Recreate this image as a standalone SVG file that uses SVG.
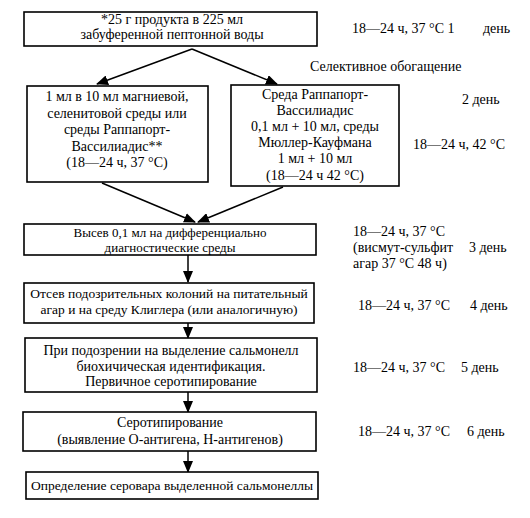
<svg xmlns="http://www.w3.org/2000/svg" width="530" height="518" viewBox="0 0 530 518">
<style>
.box{fill:#fff;stroke:#000;stroke-width:1.6}
.t{font-family:"Liberation Serif","Times New Roman",serif;font-size:14px;fill:#000}
.s{font-size:13px}
.m{font-size:13.5px}
.c{text-anchor:middle}
.ln{stroke:#000;stroke-width:1.5;fill:none;marker-end:url(#ah)}
</style>
<defs>
<marker id="ah" markerUnits="userSpaceOnUse" markerWidth="12" markerHeight="10" refX="11" refY="5" orient="auto">
<path d="M0,0 L12,5 L0,10 Z" fill="#000"/>
</marker>
</defs>
<rect width="530" height="518" fill="#fff"/>
<g id="connectors">
<line class="ln" x1="192" y1="49" x2="97" y2="84"/>
<line class="ln" x1="192" y1="49" x2="277" y2="84"/>
<line class="ln" x1="102" y1="183" x2="195" y2="222"/>
<line class="ln" x1="283" y1="187" x2="198" y2="222"/>
<line class="ln" x1="188" y1="255" x2="188" y2="282"/>
<line class="ln" x1="188" y1="323" x2="188" y2="338"/>
<line class="ln" x1="188" y1="392" x2="188" y2="412"/>
<line class="ln" x1="188" y1="451" x2="188" y2="472"/>
</g>
<g id="n1">
<rect class="box" x="24" y="12" width="293" height="34"/>
<text class="t c" x="172" y="24">*25 г продукта в 225 мл</text>
<text class="t c" x="172" y="39">забуференной пептонной воды</text>
</g>
<g id="n2a">
<rect class="box" x="27" y="86" width="181" height="96"/>
<text class="t c" x="117" y="101">1 мл в 10 мл магниевой,</text>
<text class="t c" x="117" y="118">селенитовой среды или</text>
<text class="t c" x="117" y="134">среды Раппапорт-</text>
<text class="t c" x="117" y="151">Вассилиадис**</text>
<text class="t c" x="117" y="167">(18—24 ч, 37 °С)</text>
</g>
<g id="n2b">
<rect class="box" x="231" y="85" width="168" height="101"/>
<text class="t c" x="315" y="99">Среда Раппапорт-</text>
<text class="t c" x="315" y="115">Вассилиадис</text>
<text class="t c" x="315" y="131">0,1 мл + 10 мл, среды</text>
<text class="t c" x="315" y="147">Мюллер-Кауфмана</text>
<text class="t c" x="315" y="163">1 мл + 10 мл</text>
<text class="t c" x="315" y="180">(18—24 ч 42 °С)</text>
</g>
<g id="n3">
<rect class="box" x="24" y="224" width="292" height="31"/>
<text class="t s c" x="170" y="237">Высев 0,1 мл на дифференциально</text>
<text class="t s c" x="170" y="251.5">диагностические среды</text>
</g>
<g id="n4">
<rect class="box" x="24" y="283" width="290" height="40"/>
<text class="t m c" x="169" y="298">Отсев подозрительных колоний на питательный</text>
<text class="t m c" x="169" y="314">агар и на среду Клиглера (или аналогичную)</text>
</g>
<g id="n5">
<rect class="box" x="25" y="338" width="292" height="54"/>
<text class="t c" x="171" y="355">При подозрении на выделение сальмонелл</text>
<text class="t c" x="171" y="371">биохичическая идентификация.</text>
<text class="t c" x="171" y="386">Первичное серотипирование</text>
</g>
<g id="n6">
<rect class="box" x="23" y="412" width="293" height="39"/>
<text class="t c" x="170" y="427">Серотипирование</text>
<text class="t c" x="170" y="444">(выявление О-антигена, Н-антигенов)</text>
</g>
<g id="n7">
<rect class="box" x="26" y="472" width="292" height="27"/>
<text class="t m c" x="172" y="490">Определение серовара выделенной сальмонеллы</text>
</g>
<g id="notes">
<text class="t" x="352" y="33">18—24 ч, 37 °С 1</text>
<text class="t" x="483" y="33">день</text>
<text class="t" x="310" y="71">Селективное обогащение</text>
<text class="t" x="462" y="104">2 день</text>
<text class="t" x="413" y="149">18—24 ч, 42 °С</text>
<text class="t" x="353" y="236">18—24 ч, 37 °С</text>
<text class="t" x="353" y="252">(висмут-сульфит</text>
<text class="t" x="469" y="252">3 день</text>
<text class="t" x="353" y="268">агар 37 °С 48 ч)</text>
<text class="t" x="358" y="310">18—24 ч, 37 °С</text>
<text class="t" x="470" y="310">4 день</text>
<text class="t" x="353" y="372">18—24 ч, 37 °С</text>
<text class="t" x="461" y="372">5 день</text>
<text class="t" x="358" y="436">18—24 ч, 37 °С</text>
<text class="t" x="467" y="436">6 день</text>
</g>
</svg>
